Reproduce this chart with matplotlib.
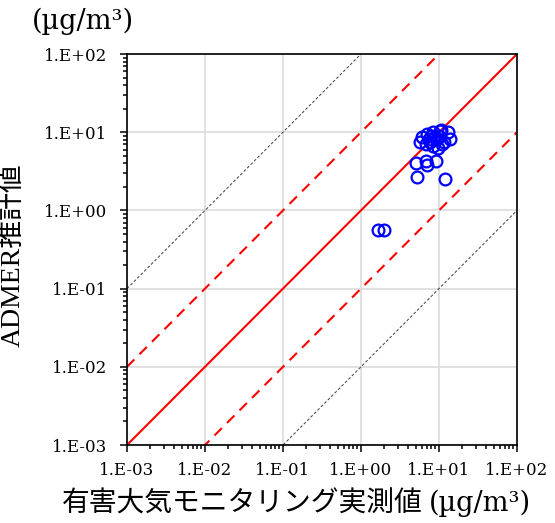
import numpy as np
import matplotlib
matplotlib.use("Agg")
import matplotlib.pyplot as plt
from matplotlib.ticker import LogLocator, FuncFormatter

serif_jp = ['DejaVu Serif', 'Noto Sans CJK JP']
plt.rcParams['font.family'] = serif_jp

# measured (monitoring) vs. ADMER estimate, ug/m3
measured = [1.65, 1.97, 5.2, 11.9, 5.1, 6.8, 7.0, 9.2,
            6.05, 7.0, 8.4, 10.3, 13.0, 13.8, 9.4, 7.7, 5.7, 10.9, 8.4,
            7.4, 9.0, 10.0, 11.6, 9.7, 6.9, 10.5, 8.0]
estimated = [0.57, 0.555, 2.65, 2.5, 4.0, 4.25, 3.8, 4.25,
             8.6, 9.4, 10.0, 10.3, 10.0, 8.1, 8.1, 7.45, 7.45, 7.0, 6.6,
             8.1, 8.6, 9.0, 7.6, 6.2, 7.0, 10.6, 9.0]

ref_x = [1e-3, 1e2]
factors = [1, 10, 0.1, 100, 0.01]

fig = plt.figure(figsize=(5.55, 5.23), dpi=100)
ax = fig.add_axes([0.2288, 0.1491, 0.7027, 0.7476])

ax.set_xscale('log')
ax.set_yscale('log')
ax.set_xlim(1e-3, 1e2)
ax.set_ylim(1e-3, 1e2)

ax.grid(True, which='major', color='#d9d9d9', lw=1.1, zorder=0)

for f in factors:
    ys = [v * f for v in ref_x]
    if f == 1:
        ax.plot(ref_x, ys, color='red', lw=1.5, zorder=2)
    elif f in (10, 0.1):
        ax.plot(ref_x, ys, color='red', lw=1.5, ls=(0, (5, 3.5)), zorder=2)
    else:
        ax.plot(ref_x, ys, color='#404040', lw=0.7, ls=(0, (3, 2)), zorder=2)

ax.plot(measured, estimated, 'o', ms=8.5, mfc='none', mec='#0000ff', mew=1.6,
        ls='none', zorder=3)

fmt = FuncFormatter(lambda v, p: '1.E%+03d' % int(round(np.log10(v))))
for axis in (ax.xaxis, ax.yaxis):
    axis.set_major_locator(LogLocator(base=10, numticks=10))
    axis.set_minor_locator(LogLocator(base=10, subs=np.arange(2, 10), numticks=10))
    axis.set_major_formatter(fmt)
ax.tick_params(which='major', direction='out', length=5, width=1.1, labelsize=12)
ax.tick_params(which='minor', direction='out', length=3, width=1.1)
ax.tick_params(axis='y', pad=9)
ax.tick_params(axis='x', pad=7)
for s in ax.spines.values():
    s.set_linewidth(1.2)

# x label: Japanese part and unit drawn side by side
fig.text(62 / 555, 0.022, '有害大気モニタリング実測値', fontsize=20,
         ha='left', va='baseline')
fig.text(531 / 555, 0.022, '(µg/m³)', fontsize=19.5, ha='right', va='baseline')

ax.set_ylabel('ADMER推計値', fontsize=20,
              family=['Liberation Serif', 'Noto Sans CJK JP'])
ax.yaxis.set_label_coords(-0.26, 0.486)

fig.text(0.149, 0.96, '(µg/m³)', fontsize=19.5, ha='center', va='center')

fig.savefig('out.png', dpi=100)
